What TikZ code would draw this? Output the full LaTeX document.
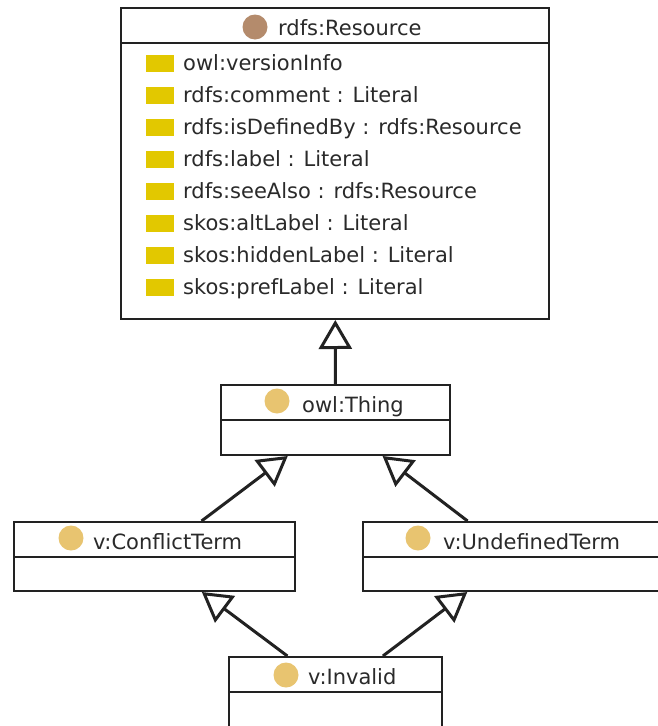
\documentclass[tikz,border=0pt]{standalone}
\usepackage{fontspec}
\setmainfont{DejaVu Sans}
\usetikzlibrary{arrows.meta}
\definecolor{edgec}{HTML}{222222}
\definecolor{txtc}{HTML}{2A2A2A}
\definecolor{brownc}{HTML}{B48B6C}
\definecolor{goldc}{HTML}{E8C470}
\definecolor{propc}{HTML}{E2C800}
\tikzset{
  classbox/.style={draw=edgec, line width=2pt, rectangle, inner sep=0pt},
  divider/.style={draw=edgec, line width=2pt},
  lbl/.style={anchor=base west, inner sep=0pt, text=txtc, font=\fontsize{21}{25}\selectfont},
  dot/.style={circle, inner sep=0pt, minimum size=25pt},
  prop/.style={rectangle, fill=propc, inner sep=0pt, minimum width=28pt, minimum height=17pt},
  inh/.style={draw=edgec, line width=3pt, -{Triangle[open, length=29pt, width=33pt]}},
}
\begin{document}
\begin{tikzpicture}[x=1pt,y=-1pt]
\useasboundingbox (0,0) rectangle (658,726);
\clip (0,0) rectangle (658,726);
\fill[white] (0,0) rectangle (658,726);

% class boxes
\node[classbox, minimum width=428pt, minimum height=311pt] (res) at (335,163.5) {};
\node[classbox, minimum width=229pt, minimum height=70pt] (thing) at (335.5,420) {};
\node[classbox, minimum width=281pt, minimum height=69pt] (ct) at (154.5,556.5) {};
\node[classbox, minimum width=302pt, minimum height=69pt] (ut) at (514,556.5) {};
\node[classbox, minimum width=213pt, minimum height=70pt] (inv) at (335.5,692) {};

% dividers
\draw[divider] ([yshift=-36pt]res.north west) -- ([yshift=-36pt]res.north east);
\draw[divider] ([yshift=-36pt]thing.north west) -- ([yshift=-36pt]thing.north east);
\draw[divider] ([yshift=-35.5pt]ct.north west) -- ([yshift=-35.5pt]ct.north east);
\draw[divider] ([yshift=-35.5pt]ut.north west) -- ([yshift=-35.5pt]ut.north east);
\draw[divider] ([yshift=-36pt]inv.north west) -- ([yshift=-36pt]inv.north east);

% headers
\node[dot, fill=brownc] (resdot) at (255,27) {};
\node[lbl] (restxt) at (278,35.7) {rdfs:Resource};
\node[dot, fill=goldc] (thingdot) at (277,401) {};
\node[lbl] (thingtxt) at (302,412.7) {owl:Thing};
\node[dot, fill=goldc] (ctdot) at (71,538) {};
\node[lbl] (cttxt) at (93,549) {v:ConflictTerm};
\node[dot, fill=goldc] (utdot) at (418,538) {};
\node[lbl] (uttxt) at (443,549) {v:UndefinedTerm};
\node[dot, fill=goldc] (invdot) at (286,675) {};
\node[lbl] (invtxt) at (308,684) {v:Invalid};

% properties
\foreach \t [count=\i] in {owl:versionInfo, rdfs:comment : Literal, rdfs:isDefinedBy : rdfs:Resource, rdfs:label : Literal, rdfs:seeAlso : rdfs:Resource, skos:altLabel : Literal, skos:hiddenLabel : Literal, skos:prefLabel : Literal}{
  \node[prop] (sq\i) at (160,31.3+32*\i) {};
  \node[lbl] (p\i) at (183,38.8+32*\i) {\t};
}

% inheritance
\draw[inh] (thing) -- (res);
\draw[inh] (ct) -- (thing);
\draw[inh] (ut) -- (thing);
\draw[inh] (inv) -- (ct);
\draw[inh] (inv) -- (ut);
\end{tikzpicture}
\end{document}
